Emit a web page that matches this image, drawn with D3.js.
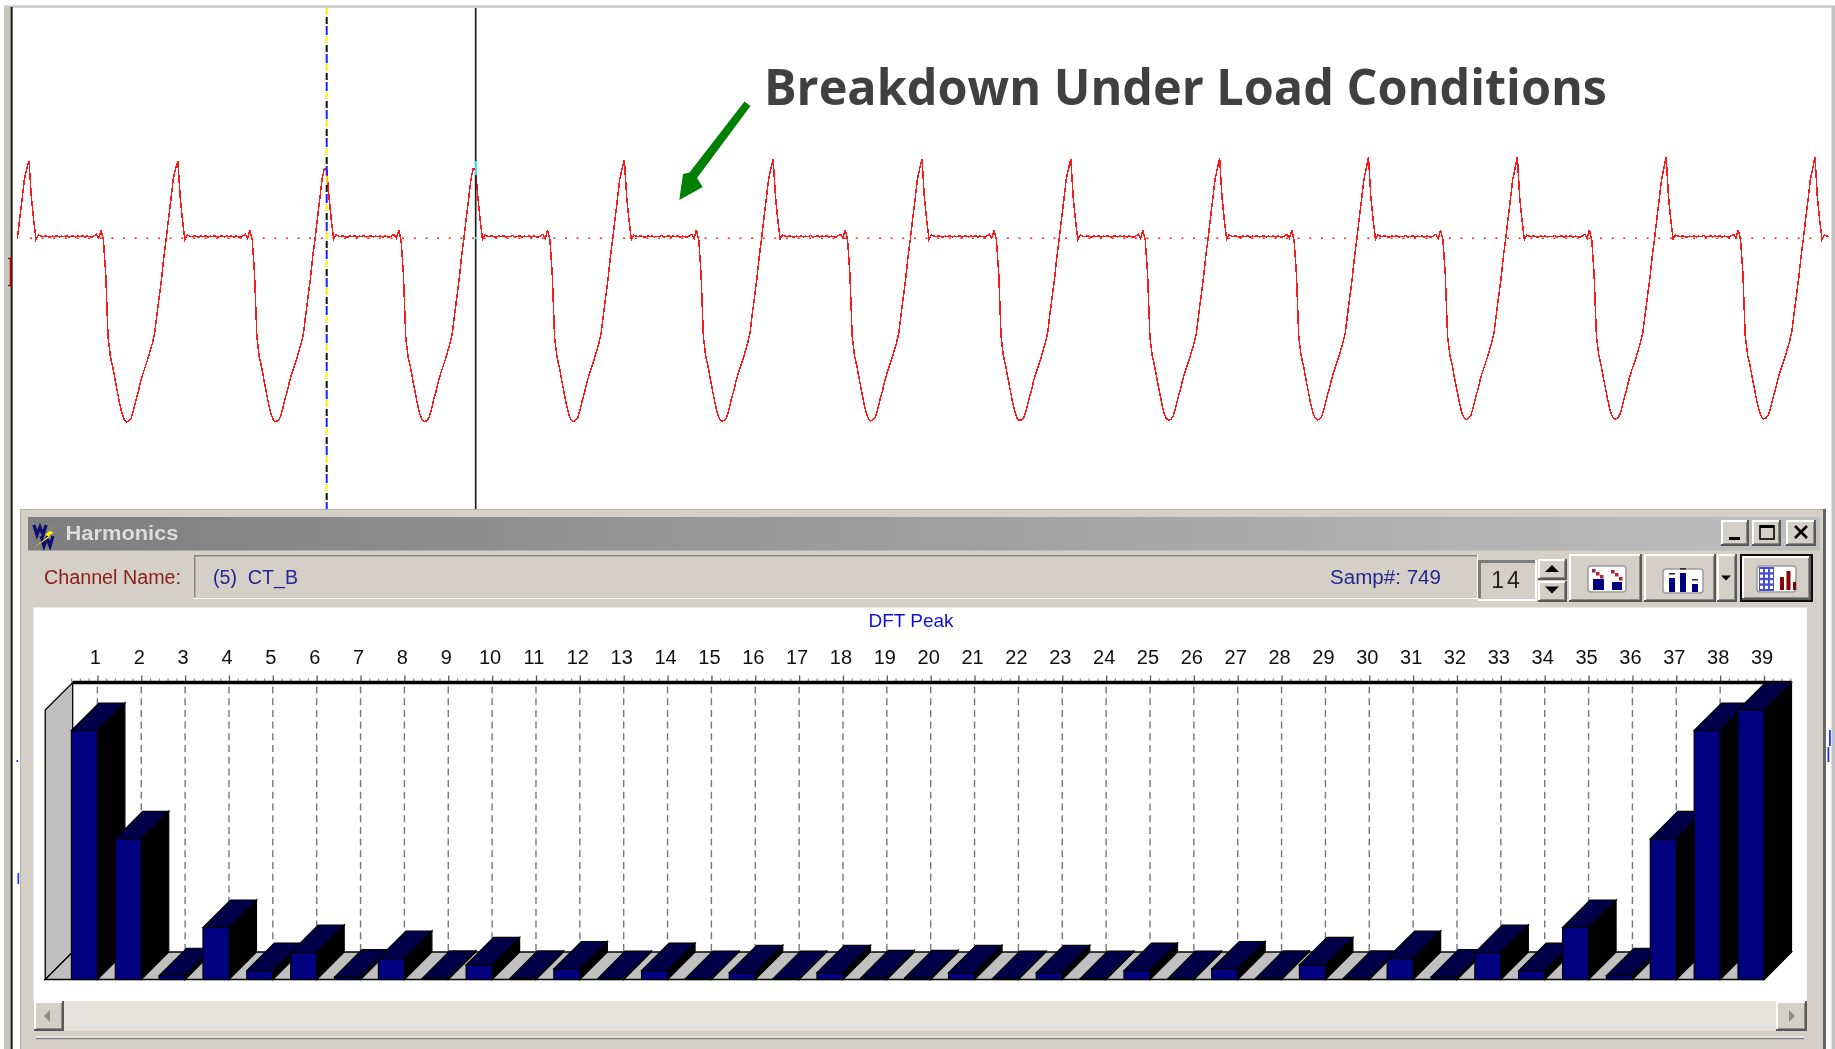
<!DOCTYPE html>
<html>
<head>
<meta charset="utf-8">
<title>Harmonics</title>
<script src="https://cdn.jsdelivr.net/npm/d3@7"></script>
<style>
  html, body { margin: 0; padding: 0; background: #fff; overflow: hidden; }
  svg { display: block; }
</style>
</head>
<body>
<script>
const w = 1835;
const h = 1049;

const titleText = "Breakdown Under Load Conditions";
const windowTitle = "Harmonics";
const chartTitle = "DFT Peak";

// harmonic number, bar height in % of the tallest bar
const harmonics = d3.range(1, 40);
const peaks = [92.4, 52.2, 1.4, 19.3, 3.3, 10, 0.9, 7.8, 0.4, 5.4,
               0.4, 3.9, 0.3, 3.3, 0.3, 2.5, 0.3, 2.5, 0.6, 0.6,
               2.5, 0.3, 2.5, 0.3, 3.3, 0.3, 3.9, 0.4, 5.4, 0.4,
               7.8, 0.9, 10, 3.3, 19.3, 1.4, 52.2, 92.4, 100];

// one cycle of the trace, 64 samples starting on the positive peak
const waveCycle = [77.3, 41.6, 18.3, -1.1, 3.3, 2.3, 1.6, 2.6, 1.6, 1.1, 2.3, 1.6,
                   2.6, 1.3, 2.1, 1.6, 2.8, 1.3, 1.8, 2.6, 1.3, 2.3, 1.6, 2.6,
                   1.1, 2.3, 1.6, 1.1, 2.6, 3.9, -0.1, 8.3, -1.7, -36, -99, -118.4,
                   -128.4, -141.4, -153.4, -165.4, -175.4, -181.4, -183.4, -182.4, -179.4, -171.4,
                   -161.4, -153.4, -143.4, -135.4, -128.4, -121.4, -113.4, -105.4, -95.4, -76.4,
                   -58.4, -40.4, -18.4, -0.4, 19.6, 38.6, 58.6, 69.6];
// the height of each positive peak and negative trough, cycle by cycle
const cyclePeaks = [77.3, 77.3, 69, 69, 78.5, 79.3, 79.3, 79.3, 80, 81, 81.6, 81.6, 81.6];
const cycleTroughs = [183.4, 183.4, 183.4, 183.2, 183, 182.5, 182.3, 182, 181.6, 181.2, 180.8, 180.6, 180.6];

const firstSample = -5;
const lastSample = 774;

let svg = d3.select("body").append("svg")
    .attr("width", w)
    .attr("height", h);

let defs = svg.append("defs");
defs.append("filter").attr("id", "soft")
    .attr("x", "-1%").attr("y", "-1%").attr("width", "102%").attr("height", "102%")
    .append("feGaussianBlur").attr("stdDeviation", 0.45);
let titleGrad = defs.append("linearGradient").attr("id", "titlebar");
titleGrad.append("stop").attr("offset", "0%").attr("stop-color", "#7e7e7e");
titleGrad.append("stop").attr("offset", "100%").attr("stop-color", "#bfbfbf");

function rect(g, x, y, width, height, fill) {
    return g.append("rect")
        .attr("x", x).attr("y", y)
        .attr("width", width).attr("height", height)
        .attr("fill", fill);
}

function label(g, x, y, text, size, colour, anchor) {
    return g.append("text")
        .attr("x", x).attr("y", y)
        .attr("font-family", "'Liberation Sans', Arial, sans-serif")
        .attr("font-size", size)
        .attr("fill", colour)
        .attr("text-anchor", anchor || "start")
        .style("white-space", "pre")
        .text(text);
}

// raised windows 2000 style button
function button(g, x, y, width, height) {
    rect(g, x, y, width, height, "#5a5a5a");
    rect(g, x, y, width - 2, height - 2, "#ffffff");
    rect(g, x + 2, y + 2, width - 4, height - 4, "#8a8a8a");
    rect(g, x + 2, y + 2, width - 5, height - 5, "#d4d0c8");
}

function triangle(g, cx, cy, size, dir, colour) {
    let pts;
    if (dir == "up") pts = [[cx - size, cy + size / 2], [cx + size, cy + size / 2], [cx, cy - size / 2]];
    if (dir == "down") pts = [[cx - size, cy - size / 2], [cx + size, cy - size / 2], [cx, cy + size / 2]];
    if (dir == "left") pts = [[cx + size / 2, cy - size], [cx + size / 2, cy + size], [cx - size / 2, cy]];
    if (dir == "right") pts = [[cx - size / 2, cy - size], [cx - size / 2, cy + size], [cx + size / 2, cy]];
    g.append("polygon").attr("points", pts.join(" ")).attr("fill", colour);
}

/* ---------- outer frame of the trace window ---------- */
rect(svg, 4, 5.5, w - 4, 2.2, "#c2c2c2");
rect(svg, 4, 6, 6.5, h - 6, "#c9c6c0");
rect(svg, 10.5, 7, 2.2, h - 7, "#222222");
rect(svg, 1831.5, 6, 3.5, h - 6, "#c2c2c2");

/* ---------- trace ---------- */
let sampleScale = d3.scaleLinear().domain([0, 768]).range([29, 1815]);
let waveScale = d3.scaleLinear().domain([-200, 100]).range([438.3, 138.3]);

let samples = d3.range(firstSample, lastSample + 1).map(s => {
    let k = Math.max(0, Math.floor(s / 64));
    let i = ((s % 64) + 64) % 64;
    let v = waveCycle[i];
    if (i == 0) v = cyclePeaks[k];
    if (v < 0) v = v * cycleTroughs[k] / 183.4;
    return { s: s, v: v };
});

let waveLine = d3.line()
    .x(d => sampleScale(d.s))
    .y(d => waveScale(d.v));

svg.append("line")
    .attr("x1", 30).attr("x2", 1830)
    .attr("y1", waveScale(0)).attr("y2", waveScale(0))
    .attr("stroke", "#ff2020")
    .attr("stroke-width", 1.5)
    .attr("stroke-dasharray", "2 9.63");

// aliased on purpose, the original trace is drawn pixel by pixel
svg.append("path")
    .datum(samples)
    .attr("d", waveLine)
    .attr("fill", "none")
    .attr("stroke", "#ff1818")
    .attr("stroke-width", 1.5)
    .attr("shape-rendering", "crispEdges");

// red scale bracket on the left edge
svg.append("path")
    .attr("d", "M8 258.5H10.5V285.5H8")
    .attr("fill", "none").attr("stroke", "#cc0000").attr("stroke-width", 1.6);

// cursors
svg.append("line")
    .attr("x1", 475.7).attr("x2", 475.7).attr("y1", 8).attr("y2", 510)
    .attr("stroke", "#1c1c1c").attr("stroke-width", 1.7);
rect(svg, 475, 161, 2, 14, "#30e8f0");
rect(svg, 475, 237, 2, 2, "#30e8f0");

let cursorX = 326.7;
[["#ffee00", "7 21", 0], ["#111111", "7 21", -9], ["#1a22ff", "9 19", -18]].forEach(c => {
    svg.append("line")
        .attr("x1", cursorX).attr("x2", cursorX).attr("y1", 8).attr("y2", 510)
        .attr("stroke", c[0]).attr("stroke-width", 2)
        .attr("stroke-dasharray", c[1])
        .attr("stroke-dashoffset", c[2]);
});

/* ---------- headline and arrow ---------- */
svg.append("text")
    .attr("x", 764).attr("y", 105)
    .attr("font-family", "'Open Sans', sans-serif")
    .attr("font-weight", 700)
    .attr("font-size", 51)
    .attr("fill", "#404040")
    .attr("textLength", 843)
    .attr("lengthAdjust", "spacingAndGlyphs")
    .text(titleText);

svg.append("polygon")
    .attr("points", [[744.5, 101.5], [750.5, 106], [697, 178], [702.7, 187], [679.3, 200], [683, 174], [689.5, 172.5]].join(" "))
    .attr("fill", "#008000");

/* ---------- small blue marks beside the harmonics window ---------- */
rect(svg, 17.5, 873, 1.6, 11, "#2030ff");
rect(svg, 16.5, 760, 1.6, 2, "#2030ff");
rect(svg, 1829, 730, 1.8, 16, "#2030ff");
rect(svg, 1827.5, 747, 1.8, 15, "#2030ff");

/* ---------- harmonics window ---------- */
let win = svg.append("g").attr("filter", "url(#soft)");

rect(win, 20, 509, 1806, 540, "#b5b3ae");
rect(win, 21, 510, 1802, 539, "#d4d0c8");
rect(win, 1823, 509, 3, 540, "#666666");

// title bar
rect(win, 28, 517, 1792, 33.5, "url(#titlebar)");
// program icon: two navy W shapes with a yellow bolt
win.append("path")
    .attr("d", "M34 525L37 535L40 527L43 535L46 525M41 536L44 546L47 538L50 546L53 536")
    .attr("fill", "none").attr("stroke", "#101070").attr("stroke-width", 3.2);
win.append("polygon")
    .attr("points", "61,520 49,531 54,532 33,548 50,537 45,535")
    .attr("fill", "#f4f000");
label(win, 65.5, 540, windowTitle, 20, "#dcdcdc")
    .attr("font-weight", 700)
    .attr("textLength", 113)
    .attr("lengthAdjust", "spacingAndGlyphs");

[[1721, 1749], [1752, 1781], [1786, 1816]].forEach(b => button(win, b[0], 520, b[1] - b[0], 26));
rect(win, 1729, 537, 11, 3, "#000");
win.append("rect").attr("x", 1760).attr("y", 526).attr("width", 14).attr("height", 13)
    .attr("fill", "none").attr("stroke", "#000").attr("stroke-width", 1.6);
rect(win, 1760, 525, 14, 3, "#000");
win.append("path").attr("d", "M1795 526L1807 538M1807 526L1795 538")
    .attr("stroke", "#000").attr("stroke-width", 2.6);

// channel row
label(win, 44, 584, "Channel Name:", 20, "#8a1c1c")
    .attr("textLength", 137).attr("lengthAdjust", "spacingAndGlyphs");
rect(win, 194, 555, 1284, 44, "#ffffff");
rect(win, 194, 555, 1283, 42.5, "#858585");
rect(win, 195.5, 556.5, 1281.5, 41, "#d4d0c8");
label(win, 213, 584, "(5)  CT_B", 20, "#27278f")
    .attr("textLength", 85).attr("lengthAdjust", "spacingAndGlyphs");
label(win, 1330, 584, "Samp#: 749", 20, "#27278f")
    .attr("textLength", 111).attr("lengthAdjust", "spacingAndGlyphs");

// spin box
rect(win, 1478, 560, 59, 41, "#ffffff");
rect(win, 1478, 560, 57, 38.5, "#7c7c7c");
rect(win, 1481, 563, 54, 35.5, "#d4d0c8");
label(win, 1507, 587.5, "14", 23, "#222222", "middle").attr("letter-spacing", 3);
button(win, 1538, 559, 29, 21);
button(win, 1538, 581, 29, 21);
triangle(win, 1552, 568.5, 7, "up", "#000");
triangle(win, 1552, 590, 7, "down", "#000");

// toolbar buttons
button(win, 1569, 554, 73, 48);
button(win, 1644, 554, 72, 48);
button(win, 1717, 554, 20, 48);
triangle(win, 1726, 578, 5, "down", "#000");
rect(win, 1740, 554, 73, 48, "#111111");
button(win, 1742, 556, 69, 44);

function iconBox(x, y, width, height) {
    win.append("rect").attr("x", x).attr("y", y).attr("width", width).attr("height", height)
        .attr("rx", 3).attr("fill", "#ffffff").attr("stroke", "#9a9a9a").attr("stroke-width", 1.5);
}
iconBox(1588, 566, 38, 26);
rect(win, 1593, 579, 11, 11, "#000080");
rect(win, 1612, 582, 10, 8, "#000080");
[[1592, 569], [1596, 572], [1600, 575], [1611, 570], [1615, 573], [1619, 577]].forEach(p => {
    rect(win, p[0], p[1], 3.5, 3.5, "#b02030");
});
iconBox(1663, 569, 40, 24);
[[1669, 578, 6], [1680, 573, 6], [1692, 584, 6]].forEach(b => {
    rect(win, b[0], b[1], b[2], 592 - b[1], "#000080");
    rect(win, b[0], b[1] - 5, b[2], 1.6, "#333333");
});
iconBox(1757, 566, 39, 26);
rect(win, 1759, 567, 15, 24, "#4a4fd0");
d3.range(0, 4).forEach(r => {
    d3.range(0, 3).forEach(c => {
        rect(win, 1760 + c * 5, 569 + r * 5.6, 3, 3.2, "#ffffff");
    });
});
rect(win, 1780, 577, 4, 13, "#8b0000");
rect(win, 1786.5, 571, 4, 19, "#8b0000");
rect(win, 1793, 582, 3, 8, "#8b0000");

// chart area
rect(win, 33.5, 607.5, 1773.5, 394, "#ffffff");
label(win, 911, 627, chartTitle, 19, "#1010e0", "middle")
    .attr("textLength", 85).attr("lengthAdjust", "spacingAndGlyphs");

const depth = 27.5;
const barWidth = 26;
const floorY = 979.5;

let xScale = d3.scaleLinear().domain([1, 39]).range([97.4, 1764]);
let yScale = d3.scaleLinear().domain([0, 100]).range([floorY, 710]);
const backTop = yScale(100) - depth;
const backLeft = xScale(1) - barWidth + 1.3;

let plot = win.append("g");

// left wall and floor
plot.append("polygon")
    .attr("points", [[backLeft - depth, floorY], [backLeft - depth, backTop + depth], [backLeft, backTop], [backLeft, floorY - depth]].join(" "))
    .attr("fill", "#c0c0c0").attr("stroke", "#000").attr("stroke-width", 1.3);
plot.append("polygon")
    .attr("points", [[backLeft - depth, floorY], [xScale(39), floorY], [xScale(39) + depth, floorY - depth], [backLeft, floorY - depth]].join(" "))
    .attr("fill", "#c0c0c0").attr("stroke", "#000").attr("stroke-width", 1.3);

// dashed grid lines on the back wall
plot.selectAll(".grid")
    .data(harmonics)
    .enter()
    .append("line")
    .attr("class", "grid")
    .attr("x1", d => xScale(d)).attr("x2", d => xScale(d))
    .attr("y1", backTop + 4).attr("y2", floorY - depth)
    .attr("stroke", "#777777")
    .attr("stroke-width", 1.4)
    .attr("stroke-dasharray", "7 4.7");

// top axis: minor ticks, major ticks with labels, thick rule
let minorAxis = d3.axisTop(xScale)
    .tickValues(d3.range(0.4, 39.7, 0.2).filter(d => Math.abs(d - Math.round(d)) > 0.01))
    .tickSize(4)
    .tickFormat("");
plot.append("g")
    .attr("transform", "translate(0," + backTop + ")")
    .call(minorAxis)
    .call(g => g.select(".domain").remove())
    .call(g => g.selectAll("line").attr("stroke", "#8a8a8a").attr("stroke-width", 1.2));

let majorAxis = d3.axisTop(xScale)
    .tickValues(harmonics)
    .tickSize(7)
    .tickPadding(12)
    .tickFormat(d3.format("d"));
plot.append("g")
    .attr("transform", "translate(0," + backTop + ")")
    .call(majorAxis)
    .call(g => g.select(".domain").remove())
    .call(g => g.selectAll("line").attr("stroke", "#555555").attr("stroke-width", 1.3))
    .call(g => g.selectAll("text")
        .attr("x", -2.5)
        .attr("fill", "#111111")
        .attr("font-family", "'Liberation Sans', Arial, sans-serif")
        .attr("font-size", 20));

plot.append("line")
    .attr("x1", backLeft).attr("x2", xScale(39) + depth)
    .attr("y1", backTop).attr("y2", backTop)
    .attr("stroke", "#000").attr("stroke-width", 3.4);

// 3d bars, painted left to right
let bars = plot.selectAll(".bar")
    .data(harmonics)
    .enter()
    .append("g")
    .attr("class", "bar");

bars.append("polygon")
    .attr("points", (d, i) => {
        let r = xScale(d), t = yScale(peaks[i]);
        return [[r, floorY], [r + depth, floorY - depth], [r + depth, t - depth], [r, t]].join(" ");
    })
    .attr("fill", "#000000").attr("stroke", "#000").attr("stroke-width", 1.2);

bars.append("polygon")
    .attr("points", (d, i) => {
        let r = xScale(d), t = yScale(peaks[i]);
        return [[r - barWidth, t], [r - barWidth + depth, t - depth], [r + depth, t - depth], [r, t]].join(" ");
    })
    .attr("fill", "#000048").attr("stroke", "#000").attr("stroke-width", 1.2);

bars.append("rect")
    .attr("x", d => xScale(d) - barWidth)
    .attr("y", (d, i) => yScale(peaks[i]))
    .attr("width", barWidth)
    .attr("height", (d, i) => floorY - yScale(peaks[i]))
    .attr("fill", "#000080").attr("stroke", "#000").attr("stroke-width", 1.2);

// scroll bar and bottom groove
rect(win, 34, 1001, 1773, 29.5, "#e5e3dd");
button(win, 34, 1001, 30, 30);
button(win, 1776, 1001, 31, 30);
triangle(win, 47, 1016, 6, "left", "#8c8c8c");
triangle(win, 1792, 1016, 6, "right", "#8c8c8c");
rect(win, 36, 1036.5, 1768, 1.4, "#ffffff");
rect(win, 36, 1037.7, 1768, 1.6, "#858585");
</script>
</body>
</html>
